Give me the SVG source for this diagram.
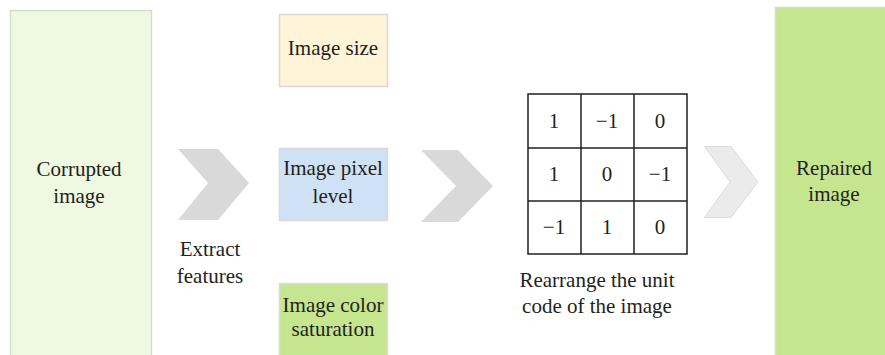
<svg xmlns="http://www.w3.org/2000/svg" width="885" height="355" viewBox="0 0 885 355">
<style>
text{font-family:"Liberation Serif","Times New Roman",serif;font-size:21px;fill:#231f20;text-anchor:middle}
.box{stroke:#d9d9d9;stroke-width:1.5}
.grid{fill:#fff;stroke:#231f20;stroke-width:1.5}
</style>
<rect width="885" height="355" fill="#fff"/>
<g id="corrupted">
<rect class="box" x="10.5" y="10.5" width="141" height="350" fill="#eff8e1"/>
<text x="79" y="176">Corrupted</text>
<text x="79" y="203">image</text>
</g>
<g id="connectors">
<polygon points="178,149 218,149 249,183 218,220 178,220 208,183" fill="#d9d9d9"/>
<polygon points="421,150 458,150 493,186 458,222 421,222 456,186" fill="#d9d9d9"/>
<polygon points="704.5,146.5 731,146.5 758,182 731,217.5 704.5,217.5 730,182" fill="#ebebeb" stroke="#dcdcdc" stroke-width="1"/>
</g>
<g id="extract-label">
<text x="210" y="256">Extract</text>
<text x="210" y="283">features</text>
</g>
<g id="image-size">
<rect class="box" x="279.5" y="14.5" width="108" height="72" fill="#fff4d7"/>
<text x="333" y="55">Image size</text>
</g>
<g id="image-pixel">
<rect class="box" x="279.5" y="148.5" width="108" height="72" fill="#cfe1f4"/>
<text x="333" y="175">Image pixel</text>
<text x="333" y="203">level</text>
</g>
<g id="image-color">
<rect class="box" x="279.5" y="283.5" width="108" height="80" fill="#c6e58f"/>
<text x="333" y="312">Image color</text>
<text x="333" y="336">saturation</text>
</g>
<g id="matrix">
<rect class="grid" x="528" y="94" width="159" height="160"/>
<line class="grid" x1="581" y1="94" x2="581" y2="254"/>
<line class="grid" x1="634" y1="94" x2="634" y2="254"/>
<line class="grid" x1="528" y1="148" x2="687" y2="148"/>
<line class="grid" x1="528" y1="201" x2="687" y2="201"/>
<text x="554" y="128">1</text>
<text x="607" y="128">−1</text>
<text x="660" y="128">0</text>
<text x="554" y="181">1</text>
<text x="607" y="181">0</text>
<text x="660" y="181">−1</text>
<text x="554" y="234">−1</text>
<text x="607" y="234">1</text>
<text x="660" y="234">0</text>
<text x="597" y="287">Rearrange the unit</text>
<text x="597" y="313">code of the image</text>
</g>
<g id="repaired">
<rect class="box" x="775.5" y="7.5" width="115" height="355" fill="#c6e58f"/>
<text x="834" y="175">Repaired</text>
<text x="834" y="201">image</text>
</g>
</svg>
